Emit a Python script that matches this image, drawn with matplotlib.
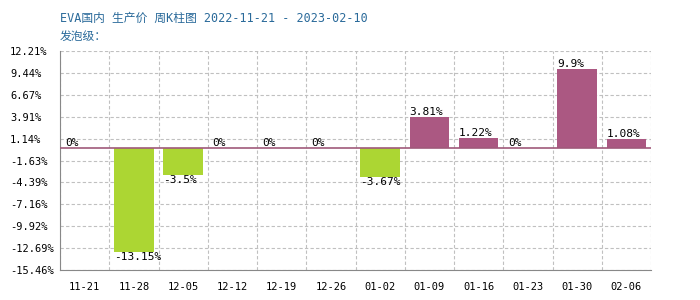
import matplotlib
matplotlib.use("Agg")
import matplotlib.pyplot as plt
import numpy as np

plt.rcParams['font.family'] = ['DejaVu Sans Mono', 'Noto Sans CJK SC']

weeks = ["11-21", "11-28", "12-05", "12-12", "12-19", "12-26",
         "01-02", "01-09", "01-16", "01-23", "01-30", "02-06"]
changes = [0, -13.15, -3.5, 0, 0, 0, -3.67, 3.81, 1.22, 0, 9.9, 1.08]
ytick_vals = [12.21, 9.44, 6.67, 3.91, 1.14, -1.63, -4.39, -7.16, -9.92, -12.69, -15.46]

up_color = "#ab5882"
down_color = "#acd633"

fig = plt.figure(figsize=(7, 3), dpi=100)
ax = fig.add_axes([60/700, 1 - 270/300, 591/700, 219/300])

x = np.arange(len(weeks))
colors = [up_color if v >= 0 else down_color for v in changes]
bw = 0.8
ax.bar(x, changes, width=bw, color=colors, zorder=3)
ax.axhline(0, color="#a05a7a", lw=1.2, zorder=4)

for xi, v in zip(x, changes):
    lbl = "{:g}%".format(v)
    if v >= 0:
        ax.text(xi - bw/2, v, lbl, ha="left", va="bottom", fontsize=8, zorder=5)
    else:
        ax.text(xi - bw/2, v, lbl, ha="left", va="top", fontsize=8, zorder=5)

ax.set_xlim(-0.5, len(weeks) - 0.5)
ax.set_ylim(ytick_vals[-1], ytick_vals[0])
ax.set_yticks(ytick_vals)
ax.set_yticklabels(["{:g}%".format(v) for v in ytick_vals], fontsize=7.5)
ax.set_xticks(x)
ax.set_xticklabels(weeks, fontsize=7.5)
ax.tick_params(axis="x", length=0, pad=9)
ax.tick_params(axis="y", length=0, pad=36)
for lab in ax.get_yticklabels():
    lab.set_horizontalalignment("left")

ax.set_xticks(np.arange(len(weeks) + 1) - 0.5, minor=True)
ax.grid(True, which="minor", axis="x", color="#c0c0c0", ls=(0, (3, 2)), lw=0.8, zorder=0)
ax.grid(True, which="major", axis="y", color="#c0c0c0", ls=(0, (3, 2)), lw=0.8, zorder=0)
ax.tick_params(axis="x", which="minor", length=0)

ax.spines["top"].set_visible(False)
ax.spines["right"].set_visible(False)
ax.spines["left"].set_color("#888888")
ax.spines["bottom"].set_color("#888888")

fig.text(60/700, 1 - 18/300, "EVA国内 生产价 周K柱图 2022-11-21 - 2023-02-10",
         color="#2a6a9a", fontsize=8.5, va="center", ha="left",
         family=["DejaVu Sans Mono", "Noto Sans CJK SC"])
fig.text(60/700, 1 - 36/300, "发泡级：", color="#2a6a9a", fontsize=8.5,
         va="center", ha="left", family=["Noto Sans CJK SC", "DejaVu Sans"])

fig.savefig("out.png", dpi=100, facecolor="white")
